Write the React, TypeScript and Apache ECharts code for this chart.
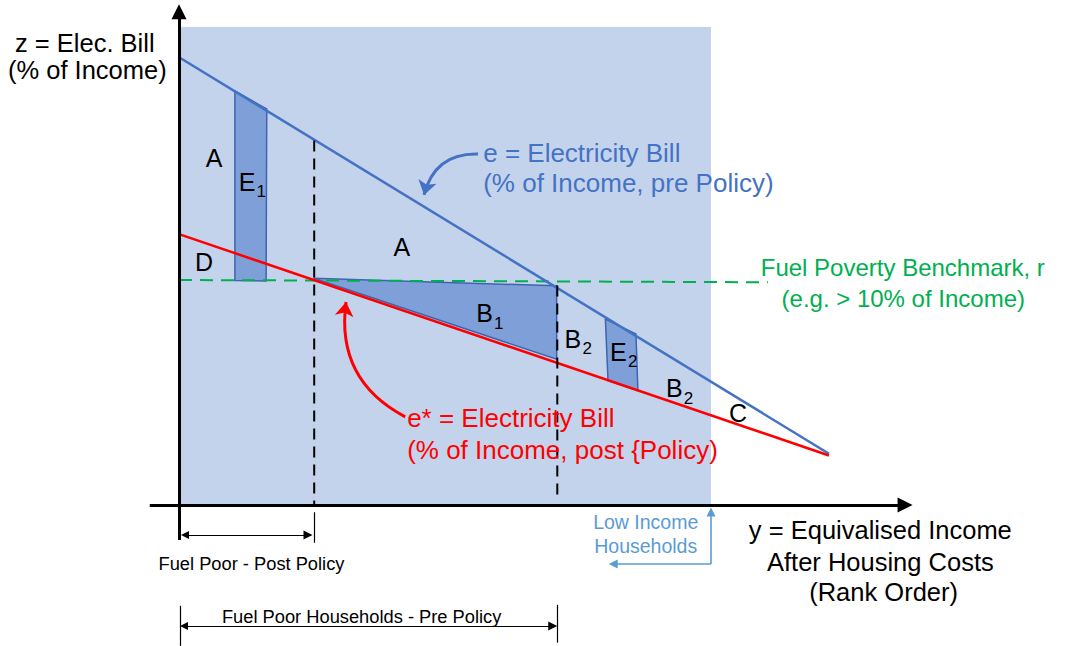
import React, { useEffect, useRef } from 'react';
import * as echarts from 'echarts';

// Data space: x = income rank (0 = poorest), y = electricity bill as % of income (schematic)
const X_RANGE = [-27.54, 137.54];
const Y_RANGE = [-31.33, 112.22];

const ePre = [[0, 99.5], [100, 11.4]];
const ePost = [[0, 60.2], [100, 11.0]];
const benchmark = [[0, 50.0], [90.6, 49.5]];
const postPolicyCut = [[20.8, 81.0], [20.8, 0]];
const prePolicyCut = [[58.2, 48.8], [58.2, 1.0]];

const lowIncomeShade = [[0, 0], [81.85, 0], [81.85, 106.2], [0, 106.2]];
const e1Area = [[8.6, 92.0], [13.5, 88.0], [13.4, 49.8], [8.6, 49.9]];
const b1Area = [[20.7, 50.4], [58.1, 48.7], [58.1, 32.4]];
const e2Area = [[65.6, 41.3], [70.3, 38.0], [70.6, 25.4], [66.0, 27.6]];

const axisArrows = [
  [[0, -7.8], [0, 109.6]],
  [[-4.5, 0], [111.7, 0]],
];
const dimensionArrows = [
  [[0.92, -6.67], [19.85, -6.67]],
  [[0.77, -26.9], [57.5, -26.9]],
];
const dimensionTicks = [
  [[20.8, -1.6], [20.8, -8.4]],
  [[0.15, -22.4], [0.15, -31.3]],
  [[58.2, -22.2], [58.2, -30.6]],
];
const lowIncomeBracket = [
  [[81.85, -13.1], [81.85, -1.56]],
  [[81.85, -13.1], [66.8, -13.1]],
];
const blueCallout = [[46.0, 78.0], [37.7, 68.9]];
const redCallout = [[34.8, 19.6], [25.7, 45.1]];

const regionLabels: [string, string, number, number][] = [
  ['A', '', 5.38, 77.2],
  ['E', '1', 10.46, 71.8],
  ['D', '', 3.85, 54.0],
  ['A', '', 34.3, 57.3],
  ['B', '1', 47.0, 42.6],
  ['B', '2', 60.6, 36.9],
  ['E', '2', 67.6, 34.1],
  ['B', '2', 76.2, 25.9],
  ['C', '', 86.0, 20.4],
];
const blueNotes: [string, number, number][] = [
  ['e = Electricity Bill', 46.8, 78.2],
  ['(% of Income, pre Policy)', 46.8, 71.5],
];
const greenNotes: [string, number, number][] = [
  ['Fuel Poverty Benchmark, r', 89.5, 52.7],
  ['(e.g. > 10% of Income)', 92.7, 46.0],
];
const redNotes: [string, number, number][] = [
  ['e* = Electricity Bill', 35.1, 19.3],
  ['(% of Income, post {Policy)', 35.1, 12.2],
];
const axisTitles: [string, number, number][] = [
  ['z = Elec. Bill', -14.5, 102.6],
  ['(% of Income)', -14.1, 96.7],
  ['y = Equivalised Income', 107.9, -5.56],
  ['After Housing Costs', 107.9, -12.6],
  ['(Rank Order)', 108.4, -19.3],
];
const dimensionNotes: [string, number, number][] = [
  ['Fuel Poor - Post Policy', 11.15, -12.9],
  ['Fuel Poor Households - Pre Policy', 28.1, -24.7],
];
const lowIncomeNotes: [string, number, number][] = [
  ['Low Income', 71.8, -3.8],
  ['Households', 71.8, -9.1],
];

const FONT = "'Liberation Sans', Arial, sans-serif";

function polygonSeries(points: number[][], fill: string, stroke: string, lineWidth: number, z: number) {
  return {
    type: 'custom',
    coordinateSystem: 'cartesian2d',
    z,
    silent: true,
    data: points,
    encode: { x: 0, y: 1 },
    renderItem: (params: any, api: any) => {
      if (params.dataIndex !== 0) return null;
      const pts = points.map((p) => api.coord(p));
      return {
        type: 'polygon',
        shape: { points: pts },
        style: { fill, stroke, lineWidth },
      };
    },
  };
}

function textSeries(notes: [string, number, number][], color: string, fontSize: number, align: string, z: number) {
  return {
    type: 'custom',
    coordinateSystem: 'cartesian2d',
    z,
    silent: true,
    data: notes.map((n) => [n[1], n[2]]),
    encode: { x: 0, y: 1 },
    renderItem: (params: any, api: any) => {
      const p = api.coord([api.value(0), api.value(1)]);
      return {
        type: 'text',
        x: p[0],
        y: p[1],
        style: {
          text: notes[params.dataIndex][0],
          fill: color,
          fontSize,
          fontFamily: FONT,
          align,
          verticalAlign: 'middle',
        },
      };
    },
  };
}

function lineSeries(data: number[][], color: string, width: number, type: any, z: number) {
  return {
    type: 'line',
    data,
    showSymbol: false,
    symbol: 'none',
    z,
    silent: true,
    lineStyle: { color, width, type },
  };
}

function arrowSeries(segments: number[][][], color: string, width: number, symbol: any, symbolSize: any, curveness: number, z: number) {
  return {
    type: 'lines',
    coordinateSystem: 'cartesian2d',
    z,
    silent: true,
    symbol,
    symbolSize,
    lineStyle: { color, width, curveness, opacity: 1 },
    itemStyle: { color },
    data: segments.map((s) => ({ coords: s })),
  };
}

export default function App() {
  const ref = useRef<HTMLDivElement>(null);
  useEffect(() => {
    if (!ref.current) return;
    const chart = echarts.init(ref.current, undefined, { renderer: 'svg' });
    const option: any = {
      animation: false,
      backgroundColor: '#ffffff',
      grid: { left: 0, right: 0, top: 0, bottom: 0, containLabel: false },
      xAxis: { type: 'value', min: X_RANGE[0], max: X_RANGE[1], show: false },
      yAxis: { type: 'value', min: Y_RANGE[0], max: Y_RANGE[1], show: false },
      series: [
        polygonSeries(lowIncomeShade, '#C4D3EC', 'none', 0, 1),
        polygonSeries(e1Area, '#7F9FD9', '#3F64AE', 1.5, 3),
        polygonSeries(b1Area, '#7F9FD9', '#3F64AE', 1.5, 3),
        polygonSeries(e2Area, '#7F9FD9', '#3F64AE', 1.5, 3),
        lineSeries(benchmark, '#00B050', 2, [13, 8], 4),
        lineSeries(ePre, '#4472C4', 2.5, 'solid', 5),
        lineSeries(ePost, '#FF0000', 2.5, 'solid', 5),
        lineSeries(postPolicyCut, '#000000', 2, [11, 7], 6),
        lineSeries(prePolicyCut, '#000000', 2, [11, 7], 6),
        arrowSeries(axisArrows, '#000000', 3, ['none', 'triangle'], [13, 15], 0, 7),
        arrowSeries(dimensionArrows, '#000000', 1.2, ['triangle', 'triangle'], [8, 9], 0, 7),
        arrowSeries(dimensionTicks, '#000000', 1.2, ['none', 'none'], 1, 0, 7),
        arrowSeries(lowIncomeBracket, '#5B9BD5', 1.6, ['none', 'triangle'], [8, 9], 0, 7),
        arrowSeries([blueCallout], '#4472C4', 3, ['none', 'arrow'], [13, 14], -0.4, 7),
        arrowSeries([redCallout], '#FF0000', 3, ['none', 'arrow'], [13, 14], 0.35, 7),
        {
          type: 'custom',
          coordinateSystem: 'cartesian2d',
          z: 9,
          silent: true,
          data: regionLabels.map((r) => [r[2], r[3]]),
          encode: { x: 0, y: 1 },
          renderItem: (params: any, api: any) => {
            const p = api.coord([api.value(0), api.value(1)]);
            const [letter, sub] = [regionLabels[params.dataIndex][0], regionLabels[params.dataIndex][1]];
            const children: any[] = [
              {
                type: 'text',
                x: p[0],
                y: p[1],
                style: { text: letter, fill: '#000', fontSize: 25, fontFamily: FONT, align: 'center', verticalAlign: 'middle' },
              },
            ];
            if (sub) {
              children.push({
                type: 'text',
                x: p[0] + 9.5,
                y: p[1] + 10,
                style: { text: sub, fill: '#000', fontSize: 17, fontFamily: FONT, align: 'left', verticalAlign: 'middle' },
              });
            }
            return { type: 'group', children };
          },
        },
        textSeries(blueNotes, '#4472C4', 26, 'left', 9),
        textSeries(greenNotes, '#00B050', 24, 'left', 9),
        textSeries(redNotes, '#FF0000', 26, 'left', 9),
        textSeries(axisTitles, '#000000', 25.5, 'center', 9),
        textSeries(dimensionNotes, '#000000', 18.3, 'center', 9),
        textSeries(lowIncomeNotes, '#5B9BD5', 19.5, 'center', 9),
      ],
    };
    chart.setOption(option);
    return () => chart.dispose();
  }, []);
  return (
    <div
      ref={ref}
      style={{ position: 'fixed', left: 0, top: 0, width: 1073, height: 646, background: '#fff' }}
    />
  );
}
